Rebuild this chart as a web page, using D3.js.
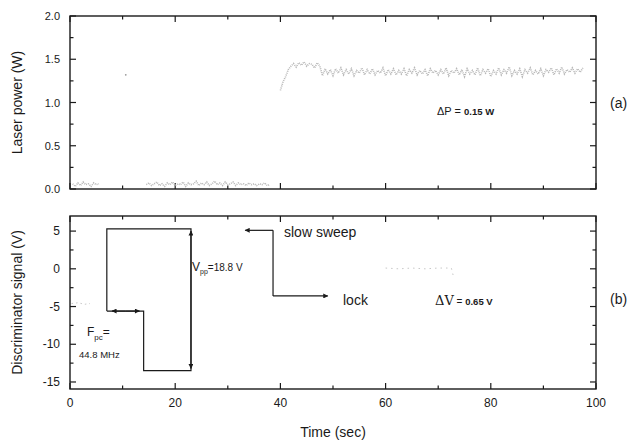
<!DOCTYPE html>
<html>
<head>
<meta charset="utf-8">
<script src="https://cdn.jsdelivr.net/npm/d3@7"></script>
<style>
  body { margin: 0; background: #fff; }
  svg { display: block; font-family: "Liberation Sans", Arial, sans-serif; }
</style>
</head>
<body>
<svg id="chart" width="635" height="444"></svg>
<script>
// Time axis
const timeTicks = [0, 20, 40, 60, 80, 100];

// (a) laser power, sampled every 0.5 s, three visible stretches
const powerStep = 0.5;
const powerStarts = [0.5, 14.5, 40];
const powerRuns = [
  [0.06, 0.03, 0.07, 0.04, 0.08, 0.05, 0.06, 0.03, 0.07, 0.05, 0.06],
  [0.05, 0.07, 0.04, 0.06, 0.08, 0.04, 0.06, 0.03, 0.07, 0.05, 0.08, 0.04,
   0.06, 0.05, 0.08, 0.03, 0.07, 0.05, 0.06, 0.09, 0.04, 0.07, 0.05, 0.08,
   0.04, 0.06, 0.09, 0.05, 0.07, 0.04, 0.08, 0.05, 0.06, 0.08, 0.04, 0.07,
   0.05, 0.06, 0.04, 0.07, 0.05, 0.06, 0.04, 0.06, 0.05, 0.07, 0.04, 0.05],
  [1.14, 1.24, 1.30, 1.38, 1.42, 1.45, 1.41, 1.46, 1.43, 1.47, 1.42, 1.45,
   1.44, 1.40, 1.46, 1.42, 1.31, 1.39, 1.33, 1.38, 1.31, 1.39, 1.34, 1.40,
   1.32, 1.38, 1.33, 1.39, 1.31, 1.37, 1.34, 1.40, 1.32, 1.38, 1.33, 1.39,
   1.32, 1.37, 1.34, 1.40, 1.31, 1.38, 1.33, 1.39, 1.32, 1.37, 1.33, 1.39,
   1.31, 1.38, 1.34, 1.40, 1.32, 1.37, 1.33, 1.38, 1.31, 1.39, 1.34, 1.37,
   1.32, 1.38, 1.33, 1.40, 1.31, 1.37, 1.34, 1.39, 1.32, 1.38, 1.30, 1.39,
   1.33, 1.37, 1.32, 1.40, 1.31, 1.38, 1.34, 1.39, 1.30, 1.37, 1.33, 1.40,
   1.32, 1.38, 1.34, 1.41, 1.31, 1.37, 1.33, 1.39, 1.30, 1.38, 1.34, 1.40,
   1.32, 1.37, 1.33, 1.39, 1.31, 1.38, 1.35, 1.40, 1.32, 1.39, 1.34, 1.41,
   1.33, 1.38, 1.35, 1.40, 1.34, 1.39, 1.35, 1.40]
];
const powerStray = [[10.6, 1.32]];
const powerTicks = [0, 0.5, 1.0, 1.5, 2.0];
const powerTickLabels = ["0.0", "0.5", "1.0", "1.5", "2.0"];

// (b) discriminator signal
const sweepTrace = [[7, -5.6], [7, 5.3], [23, 5.3], [23, -13.5], [14, -13.5], [14, -5.6], [7, -5.6]];
const vppArrow = [[23, -4], [23, 5.0]];
const vppArrowDown = [[23, -4], [23, -13.2]];
const fpcArrow = [[10.5, -5.6], [8.0, -5.6]];
const fpcArrowRight = [[10.5, -5.6], [13.2, -5.6]];
const sweepLeft = [[38.6, 5.1], [33.3, 5.1]];
const sweepDrop = [[38.6, 5.1], [38.6, -3.6]];
const lockRight = [[38.6, -3.6], [49, -3.6]];
const faintStart = [[0.3, -4.6], [1.5, -4.5], [2.8, -4.7], [3.8, -4.6]];
const faintLock = [[60, 0.1], [62.5, 0.0], [65, 0.1], [67.5, 0.0], [70, 0.1], [72.5, 0.1], [73, -1.3]];
const signalTicks = [-15, -10, -5, 0, 5];

const svg = d3.select("#chart");
const left = 70, right = 596;

const x = d3.scaleLinear().domain([0, 100]).range([left, right]);
const yA = d3.scaleLinear().domain([0, 2]).range([189, 16]);
const yB = d3.scaleLinear().domain([-15.93, 7]).range([389, 216]);

const ink = "#1a1a1a";

svg.append("defs").append("marker")
  .attr("id", "head")
  .attr("viewBox", "0 0 10 10")
  .attr("refX", 9).attr("refY", 5)
  .attr("markerWidth", 7).attr("markerHeight", 5)
  .attr("markerUnits", "userSpaceOnUse")
  .attr("orient", "auto")
  .append("path")
  .attr("d", "M0,0 L10,5 L0,10 z")
  .attr("fill", ink);

function frame(y, yMajor, yMinor, xMinor) {
  const g = svg.append("g");
  const [y0, y1] = y.range();
  g.append("rect")
    .attr("x", left).attr("y", y1)
    .attr("width", right - left).attr("height", y0 - y1)
    .attr("fill", "none").attr("stroke", ink).attr("stroke-width", 1.4);

  const tick = (x1, y1_, x2, y2) => g.append("line")
    .attr("x1", x1).attr("y1", y1_).attr("x2", x2).attr("y2", y2)
    .attr("stroke", ink).attr("stroke-width", 1.2);

  xMinor.forEach(t => {
    const len = t % 20 === 0 ? 6 : 3.5;
    tick(x(t), y0, x(t), y0 - len);
    tick(x(t), y1, x(t), y1 + len);
  });
  yMinor.forEach(v => {
    const len = yMajor.includes(v) ? 6 : 3.5;
    tick(left, y(v), left + len, y(v));
    tick(right, y(v), right - len, y(v));
  });
  return g;
}

const xAll = d3.range(0, 101, 10);

// ---- panel (a)
frame(yA, powerTicks, d3.range(0, 2.01, 0.25).map(v => +v.toFixed(2)), xAll);

const lineA = d3.line().x(d => x(d[0])).y(d => yA(d[1]));
powerRuns.forEach((run, i) => {
  const pts = run.map((v, j) => [powerStarts[i] + j * powerStep, v]);
  svg.append("path")
    .attr("d", lineA(pts))
    .attr("fill", "none")
    .attr("stroke", "#b8b8b8")
    .attr("stroke-width", 1.6)
    .attr("stroke-dasharray", "1,1");
});
svg.selectAll(".stray").data(powerStray).enter().append("circle")
  .attr("cx", d => x(d[0])).attr("cy", d => yA(d[1])).attr("r", 0.9)
  .attr("fill", "#999");

svg.selectAll(".ya").data(powerTicks).enter().append("text")
  .attr("x", left - 10).attr("y", d => yA(d) + 4)
  .attr("text-anchor", "end").attr("font-size", 11).attr("fill", ink)
  .text((d, i) => powerTickLabels[i]);

svg.append("text")
  .attr("transform", `translate(22,${(yA(0) + yA(2)) / 2}) rotate(-90)`)
  .attr("text-anchor", "middle").attr("font-size", 14).attr("fill", ink)
  .text("Laser power (W)");

const dp = svg.append("text").attr("x", 437).attr("y", 115).attr("fill", ink);
dp.append("tspan").attr("font-size", 11).text("ΔP = ");
dp.append("tspan").attr("font-size", 9.5).attr("font-weight", "bold").text("0.15 W");

svg.append("text").attr("x", 610).attr("y", 108)
  .attr("font-size", 14).attr("fill", ink).text("(a)");

// ---- panel (b)
frame(yB, signalTicks, [-15, -12.5, -10, -7.5, -5, -2.5, 0, 2.5, 5], xAll);

const lineB = d3.line().x(d => x(d[0])).y(d => yB(d[1]));

svg.append("path").attr("d", lineB(faintStart))
  .attr("fill", "none").attr("stroke", "#c8c8c8").attr("stroke-dasharray", "1.5,3");
svg.append("path").attr("d", lineB(faintLock))
  .attr("fill", "none").attr("stroke", "#c8c8c8").attr("stroke-dasharray", "1.5,4");

svg.append("path").attr("d", lineB(sweepTrace))
  .attr("fill", "none").attr("stroke", ink).attr("stroke-width", 1.2);

[vppArrow, vppArrowDown, fpcArrow, fpcArrowRight, sweepLeft, lockRight].forEach(seg => {
  svg.append("path").attr("d", lineB(seg))
    .attr("fill", "none").attr("stroke", ink).attr("stroke-width", 1.2)
    .attr("marker-end", "url(#head)");
});
svg.append("path").attr("d", lineB(sweepDrop))
  .attr("fill", "none").attr("stroke", ink).attr("stroke-width", 1.2);

svg.selectAll(".yb").data(signalTicks).enter().append("text")
  .attr("x", left - 10).attr("y", d => yB(d) + 4)
  .attr("text-anchor", "end").attr("font-size", 12).attr("fill", ink)
  .text(d => d);

svg.selectAll(".xb").data(timeTicks).enter().append("text")
  .attr("x", d => x(d)).attr("y", 407)
  .attr("text-anchor", "middle").attr("font-size", 12).attr("fill", ink)
  .text(d => d);

svg.append("text")
  .attr("transform", `translate(22,${(yB(-15.93) + yB(7)) / 2}) rotate(-90)`)
  .attr("text-anchor", "middle").attr("font-size", 14).attr("fill", ink)
  .text("Discriminator signal (V)");

svg.append("text").attr("x", (left + right) / 2).attr("y", 437)
  .attr("text-anchor", "middle").attr("font-size", 14).attr("fill", ink)
  .text("Time (sec)");

const vpp = svg.append("text").attr("x", 192).attr("y", 271).attr("fill", ink);
vpp.append("tspan").attr("font-size", 12).text("V");
vpp.append("tspan").attr("font-size", 7).attr("dy", 3).text("pp");
vpp.append("tspan").attr("font-size", 10).attr("dy", -3).text("=18.8 V");

const fpc = svg.append("text").attr("x", 87).attr("y", 336).attr("fill", ink);
fpc.append("tspan").attr("font-size", 12).text("F");
fpc.append("tspan").attr("font-size", 8).attr("dy", 4).text("pc");
fpc.append("tspan").attr("font-size", 12).attr("dy", -4).text("=");
svg.append("text").attr("x", 79).attr("y", 358).attr("font-size", 9.5).attr("fill", ink)
  .text("44.8 MHz");

svg.append("text").attr("x", 284).attr("y", 237).attr("font-size", 14).attr("fill", ink)
  .text("slow sweep");
svg.append("text").attr("x", 343).attr("y", 305).attr("font-size", 14).attr("fill", ink)
  .text("lock");

const dv = svg.append("text").attr("x", 435).attr("y", 305).attr("fill", ink);
dv.append("tspan").attr("font-size", 13).attr("font-family", "DejaVu Serif, serif").text("ΔV");
dv.append("tspan").attr("font-size", 10).text(" = ");
dv.append("tspan").attr("font-size", 9.5).attr("font-weight", "bold").text("0.65 V");

svg.append("text").attr("x", 610).attr("y", 304)
  .attr("font-size", 14).attr("fill", ink).text("(b)");
</script>
</body>
</html>
